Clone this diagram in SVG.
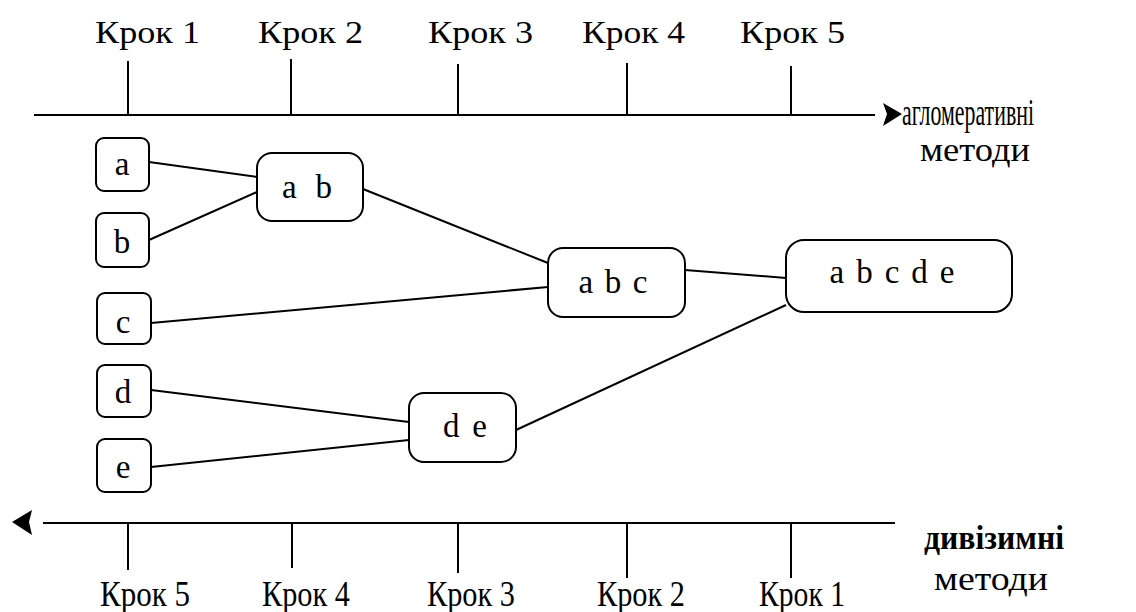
<svg xmlns="http://www.w3.org/2000/svg" width="1136" height="612" viewBox="0 0 1136 612">
<style>
.ln{stroke:#000;stroke-width:2;fill:none}
.box{stroke:#000;stroke-width:2;fill:#fff}
.t{font-family:"Liberation Serif","Times New Roman",serif;fill:#000}
.lab{font-size:32px}
.node{font-size:33px;text-anchor:middle}
.side{font-size:34px}
</style>
<rect width="1136" height="612" fill="#fff"/>
<g id="axis-top">
<line class="ln" x1="34" y1="115" x2="875" y2="115"/>
<polygon points="883,103 902,114 883,126 887,114" fill="#000"/>
<line class="ln" x1="128" y1="61" x2="128" y2="115"/>
<line class="ln" x1="291" y1="59" x2="291" y2="115"/>
<line class="ln" x1="458" y1="64" x2="458" y2="115"/>
<line class="ln" x1="627" y1="63" x2="627" y2="115"/>
<line class="ln" x1="791" y1="66" x2="791" y2="115"/>
<text class="t lab" x="95" y="43" textLength="105" lengthAdjust="spacingAndGlyphs">Крок 1</text>
<text class="t lab" x="258" y="43" textLength="105" lengthAdjust="spacingAndGlyphs">Крок 2</text>
<text class="t lab" x="428" y="43" textLength="105" lengthAdjust="spacingAndGlyphs">Крок 3</text>
<text class="t lab" x="582" y="43" textLength="103" lengthAdjust="spacingAndGlyphs">Крок 4</text>
<text class="t lab" x="740" y="43" textLength="105" lengthAdjust="spacingAndGlyphs">Крок 5</text>
<text class="t" font-size="37" x="902" y="125" textLength="132" lengthAdjust="spacingAndGlyphs">агломеративні</text>
<text class="t side" x="920" y="161" textLength="110" lengthAdjust="spacingAndGlyphs">методи</text>
</g>
<g id="axis-bottom">
<line class="ln" x1="43" y1="523" x2="895" y2="523"/>
<polygon points="12,522 32,510 29,522 32,535" fill="#000"/>
<line class="ln" x1="128" y1="523" x2="128" y2="570"/>
<line class="ln" x1="292" y1="523" x2="292" y2="568"/>
<line class="ln" x1="458" y1="523" x2="458" y2="573"/>
<line class="ln" x1="627" y1="523" x2="627" y2="578"/>
<line class="ln" x1="791" y1="523" x2="791" y2="578"/>
<text class="t" font-size="36" x="100" y="606" textLength="90" lengthAdjust="spacingAndGlyphs">Крок 5</text>
<text class="t" font-size="36" x="262" y="606" textLength="88" lengthAdjust="spacingAndGlyphs">Крок 4</text>
<text class="t" font-size="36" x="427" y="606" textLength="88" lengthAdjust="spacingAndGlyphs">Крок 3</text>
<text class="t" font-size="36" x="597" y="606" textLength="88" lengthAdjust="spacingAndGlyphs">Крок 2</text>
<text class="t" font-size="36" x="759" y="606" textLength="86" lengthAdjust="spacingAndGlyphs">Крок 1</text>
<text class="t" font-size="34" font-weight="bold" x="924" y="549" textLength="140" lengthAdjust="spacingAndGlyphs">дивізимні</text>
<text class="t" font-size="34" x="934" y="590" textLength="114" lengthAdjust="spacingAndGlyphs">методи</text>
</g>
<g id="connectors">
<line class="ln" x1="149" y1="162" x2="257" y2="177"/>
<line class="ln" x1="149" y1="240" x2="257" y2="192"/>
<line class="ln" x1="363" y1="189" x2="548" y2="263"/>
<line class="ln" x1="151" y1="323" x2="548" y2="287"/>
<line class="ln" x1="685" y1="270" x2="786" y2="278"/>
<line class="ln" x1="516" y1="430" x2="786" y2="305"/>
<line class="ln" x1="151" y1="390" x2="409" y2="422"/>
<line class="ln" x1="151" y1="467" x2="409" y2="440"/>
</g>
<g id="node-a"><rect class="box" x="96" y="138" width="53" height="53" rx="8"/><text class="t node" x="122" y="175">a</text></g>
<g id="node-b"><rect class="box" x="96" y="213" width="53" height="54" rx="8"/><text class="t node" x="122" y="253">b</text></g>
<g id="node-c"><rect class="box" x="97" y="293" width="54" height="51" rx="8"/><text class="t node" x="123" y="333">c</text></g>
<g id="node-d"><rect class="box" x="97" y="365" width="54" height="52" rx="8"/><text class="t node" x="123" y="403">d</text></g>
<g id="node-e"><rect class="box" x="97" y="439" width="54" height="53" rx="8"/><text class="t node" x="123" y="478">e</text></g>
<g id="node-ab"><rect class="box" x="257" y="153" width="106" height="68" rx="15"/><text class="t node" x="307" y="198" textLength="50">a b</text></g>
<g id="node-abc"><rect class="box" x="548" y="248" width="137" height="69" rx="15"/><text class="t node" x="613" y="293" textLength="69">a b c</text></g>
<g id="node-de"><rect class="box" x="409" y="393" width="107" height="69" rx="15"/><text class="t node" x="465" y="437" textLength="44">d e</text></g>
<g id="node-abcde"><rect class="box" x="786" y="240" width="226" height="72" rx="18"/><text class="t node" x="892" y="283" textLength="125">a b c d e</text></g>
</svg>
